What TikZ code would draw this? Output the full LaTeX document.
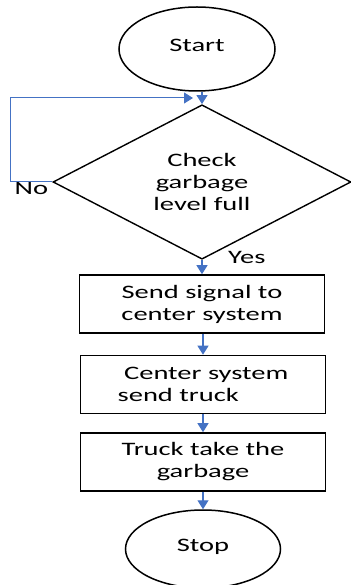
\documentclass[tikz,border=0pt]{standalone}
\usepackage{fontspec}
\setmainfont{Carlito}[FakeStretch=1.5]
\usetikzlibrary{shapes.geometric,arrows.meta}
\definecolor{flowblue}{HTML}{4472C4}

\begin{document}
\begin{tikzpicture}[x=1pt,y=-1pt,
		font=\fontsize{19}{22}\selectfont,
		every node/.style={inner sep=0pt},
		term/.style={ellipse, draw, line width=1.5pt, minimum width=156pt, minimum height=84pt, text depth=7pt},
		decide/.style={diamond, draw, line width=1.4pt, minimum width=298pt, minimum height=148pt, align=center},
		proc/.style={rectangle, draw, line width=1.6pt, minimum width=245pt, minimum height=58pt, align=center},
		flow/.style={draw=flowblue, line width=1.2pt, -{Triangle[length=9pt,width=11pt]}}]
		\useasboundingbox (0,0) rectangle (350,585);

		\node[term] (start) at (197,49) {Start};
		\node[decide] (check) at (202,182) {Check\\garbage\\level full};
		\node[proc] (signal) at (202,304) {Send signal to\\center system};
		\node[proc, align=left] (truck) at (203,384.5) {\ Center system\\send truck};
		\node[proc] (take) at (203,462) {Truck take the\\garbage};
		\node[term, minimum width=155pt, minimum height=78pt] (stop) at (203,549) {Stop};

		% branch labels
		\node[anchor=north east] (no) at ([xshift=-4pt]check.west) {No};
		\node[anchor=south west] (yes) at ([xshift=26pt,yshift=-4pt]check.south) {Yes};

		% connectors
		\coordinate (loopin) at (193,98);
		\draw[flow] (start.south -| check.north) -- (check.north);
		\draw[flow, line width=1pt] (check.west) -- ++(-42,0) |- (loopin);
		\draw[flow] (check.south) -- (check.south |- signal.north);
		\draw[flow] (signal.south -| truck.north) -- (truck.north);
		\draw[flow] (truck.south) -- (take.north);
		\draw[flow] (take.south) -- (stop.north);
\end{tikzpicture}
\end{document}
